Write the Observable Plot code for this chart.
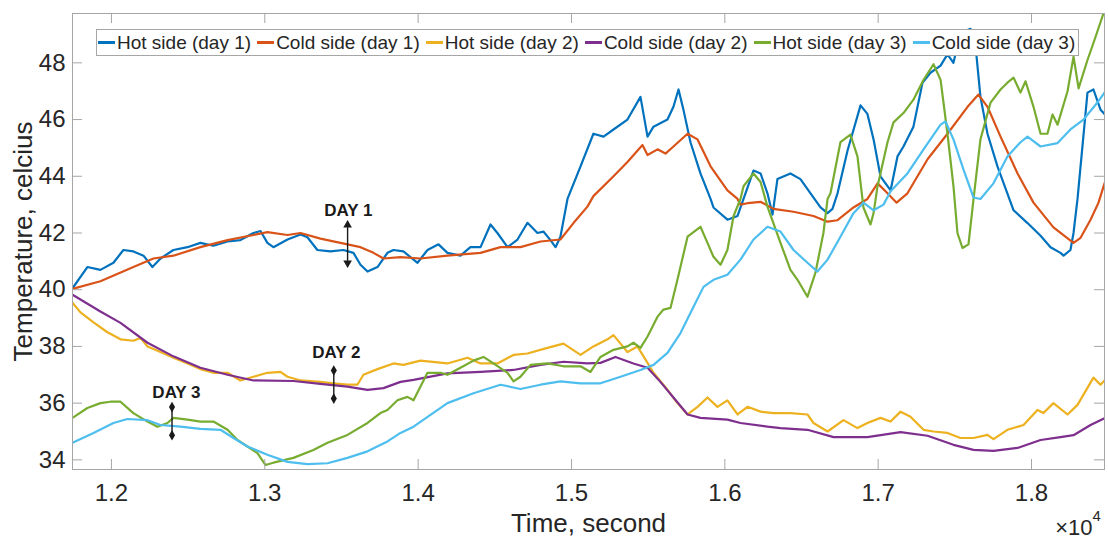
<!DOCTYPE html>
<html>
<head>
<meta charset="utf-8">
<script src="https://cdn.jsdelivr.net/npm/d3@7"></script>
<script src="https://cdn.jsdelivr.net/npm/@observablehq/plot@0.6"></script>
<style>
  body { margin: 0; background: #fff; }
  #wrap { position: relative; width: 1108px; height: 539px; font-family: "Liberation Sans", Arial, Helvetica, sans-serif; }
  #legend { position: absolute; left: 96px; top: 29px; height: 27px; box-sizing: border-box; border: 1px solid #a6a6a6;
            background: #fff; display: flex; align-items: center; padding-right: 3px; font-size: 19px; color: #262626; white-space: nowrap; }
  .item { display: flex; align-items: center; margin-left: 6px; }
  .item:first-child { margin-left: 1px; }
  .sw { width: 17px; height: 2.5px; margin-right: 2px; }
</style>
</head>
<body>
<div id="wrap"><div id="legend"></div></div>
<script>
// ---------- data ----------
const seriesNames = ["Hot side (day 1)", "Cold side (day 1)", "Hot side (day 2)", "Cold side (day 2)", "Hot side (day 3)", "Cold side (day 3)"];
const seriesColors = ["#0072BD", "#D95319", "#EDB120", "#7E2F8E", "#77AC30", "#4DBEEE"];

// [time (s), temperature (°C)]
const hotDay1 = [[11746,40.05],[11843,40.8],[11928,40.7],[12013,40.95],[12078,41.4],[12143,41.35],[12209,41.2],[12267,40.8],[12320,41.1],[12404,41.4],[12496,41.5],[12580,41.65],[12665,41.55],[12757,41.7],[12841,41.75],[12926,42.0],[12972,42.07],[13017,41.65],[13056,41.5],[13148,41.77],[13233,41.95],[13278,41.85],[13343,41.4],[13428,41.35],[13513,41.4],[13578,41.3],[13624,40.88],[13670,40.64],[13735,40.8],[13800,41.3],[13839,41.4],[13904,41.35],[13996,40.95],[14061,41.4],[14133,41.6],[14191,41.3],[14276,41.2],[14341,41.5],[14407,41.5],[14472,42.3],[14517,42.0],[14583,41.5],[14648,41.77],[14713,42.36],[14778,42.0],[14817,42.05],[14863,41.75],[14896,41.5],[14928,41.87],[14974,43.2],[15059,44.35],[15143,45.5],[15209,45.4],[15274,45.65],[15365,46.0],[15450,46.8],[15496,45.4],[15535,45.75],[15626,46.0],[15665,46.45],[15698,47.06],[15730,46.35],[15776,45.2],[15841,44.1],[15907,43.2],[15926,42.9],[16017,42.47],[16083,42.6],[16122,43.2],[16187,44.2],[16233,44.1],[16278,43.4],[16311,42.65],[16343,43.9],[16428,44.1],[16493,43.9],[16559,43.4],[16624,42.9],[16670,42.7],[16702,42.85],[16735,43.4],[16800,44.9],[16885,46.5],[16930,46.2],[16970,45.3],[17015,44.0],[17081,43.5],[17126,44.7],[17165,45.05],[17230,45.75],[17289,47.3],[17341,47.65],[17407,47.9],[17452,48.3],[17491,48.0],[17537,49.05],[17602,49.2],[17635,48.6],[17667,46.8],[17713,45.5],[17778,44.35],[17883,42.8],[17974,42.35],[18059,41.9],[18124,41.5],[18189,41.3],[18209,41.2],[18254,41.4],[18274,42.0],[18300,43.2],[18365,46.95],[18404,47.06],[18450,46.35],[18476,46.2]];
const coldDay1 = [[11746,40.03],[11928,40.3],[12143,40.8],[12274,41.1],[12404,41.2],[12580,41.5],[12757,41.75],[12926,41.93],[13017,42.03],[13148,41.93],[13233,42.0],[13363,41.8],[13493,41.65],[13624,41.5],[13709,41.3],[13774,41.1],[13885,41.15],[14015,41.1],[14191,41.2],[14407,41.3],[14537,41.5],[14667,41.5],[14798,41.7],[14928,41.77],[15013,42.35],[15104,42.93],[15143,43.3],[15274,44.0],[15365,44.5],[15463,45.1],[15496,44.75],[15561,44.95],[15613,44.8],[15665,45.05],[15757,45.5],[15822,45.3],[15907,44.35],[16017,43.5],[16083,43.2],[16102,43.0],[16148,43.05],[16233,43.1],[16317,42.85],[16448,42.75],[16578,42.6],[16670,42.4],[16735,42.45],[16839,42.9],[16930,43.2],[16996,43.75],[17061,43.4],[17120,43.07],[17191,43.4],[17322,44.6],[17452,45.5],[17583,46.45],[17654,46.88],[17713,46.45],[17798,45.4],[17909,44.1],[18013,43.07],[18143,42.2],[18274,41.65],[18320,41.83],[18385,42.47],[18437,43.07],[18476,43.75]];
const hotDay2 = [[11746,39.54],[11798,39.2],[11883,38.85],[11974,38.5],[12059,38.25],[12143,38.2],[12189,38.3],[12235,38.0],[12320,37.8],[12404,37.6],[12496,37.4],[12580,37.2],[12665,37.07],[12757,37.07],[12841,36.8],[12926,36.93],[13017,37.07],[13102,37.1],[13148,36.93],[13233,36.8],[13363,36.75],[13448,36.7],[13539,36.65],[13604,36.65],[13643,37.0],[13735,37.2],[13839,37.4],[13904,37.35],[14015,37.5],[14191,37.4],[14322,37.6],[14407,37.4],[14517,37.4],[14622,37.7],[14713,37.75],[14843,37.95],[14948,38.1],[15059,37.7],[15143,38.0],[15235,38.25],[15274,38.4],[15320,38.1],[15365,37.8],[15430,38.0],[15470,37.65],[15535,37.07],[15626,36.47],[15691,36.0],[15757,35.6],[15822,35.87],[15887,36.2],[15952,35.87],[16017,36.1],[16083,35.6],[16148,35.87],[16233,35.7],[16317,35.65],[16428,35.65],[16539,35.6],[16578,35.3],[16670,35.0],[16774,35.4],[16865,35.12],[16930,35.3],[17015,35.48],[17081,35.35],[17146,35.7],[17211,35.52],[17296,35.06],[17361,35.0],[17452,34.95],[17537,34.77],[17622,34.77],[17713,34.88],[17752,34.73],[17843,35.06],[17948,35.23],[18039,35.76],[18078,35.65],[18143,36.0],[18235,35.6],[18300,35.94],[18404,36.9],[18450,36.65],[18476,36.8]];
const coldDay2 = [[11746,39.82],[11928,39.23],[12059,38.83],[12235,38.13],[12404,37.65],[12580,37.25],[12757,37.0],[12926,36.8],[13187,36.78],[13363,36.68],[13539,36.58],[13670,36.47],[13774,36.53],[13885,36.75],[13970,36.82],[14191,37.05],[14407,37.1],[14622,37.17],[14798,37.35],[14948,37.46],[15104,37.4],[15189,37.42],[15287,37.63],[15404,37.4],[15496,37.25],[15580,36.75],[15665,36.2],[15757,35.6],[15841,35.48],[16017,35.42],[16102,35.3],[16278,35.17],[16363,35.12],[16539,35.06],[16709,34.8],[16930,34.8],[17146,34.98],[17322,34.85],[17491,34.53],[17622,34.35],[17752,34.32],[17909,34.42],[18059,34.7],[18189,34.8],[18274,34.87],[18385,35.23],[18476,35.47]];
const hotDay3 = [[11746,35.48],[11843,35.83],[11928,36.0],[11993,36.05],[12059,36.05],[12143,35.65],[12235,35.35],[12300,35.17],[12365,35.3],[12404,35.48],[12496,35.42],[12580,35.35],[12665,35.35],[12757,35.06],[12822,34.7],[12887,34.47],[12952,34.24],[13004,33.82],[13056,33.9],[13187,34.07],[13317,34.35],[13409,34.6],[13539,34.88],[13670,35.3],[13754,35.65],[13800,35.76],[13865,36.1],[13930,36.22],[13970,36.1],[14061,37.07],[14146,37.07],[14191,37.0],[14276,37.25],[14361,37.5],[14426,37.63],[14491,37.4],[14583,37.07],[14622,36.77],[14667,36.93],[14733,37.35],[14843,37.4],[14948,37.3],[15059,37.3],[15124,37.1],[15189,37.63],[15274,37.88],[15365,38.0],[15404,38.13],[15450,37.95],[15496,38.35],[15561,39.05],[15600,39.3],[15646,39.36],[15691,40.35],[15757,41.87],[15841,42.22],[15887,41.65],[15926,41.16],[15972,40.88],[16017,41.4],[16057,42.6],[16102,43.2],[16122,43.65],[16187,44.1],[16233,43.8],[16278,42.93],[16363,41.65],[16428,40.7],[16474,40.35],[16539,39.75],[16591,40.6],[16643,42.0],[16670,43.2],[16689,43.4],[16754,45.2],[16819,45.47],[16865,44.7],[16904,42.9],[16950,42.3],[16970,42.7],[16996,43.65],[17061,45.2],[17100,45.9],[17165,46.23],[17230,46.7],[17296,47.4],[17361,47.95],[17407,47.4],[17452,45.5],[17491,43.65],[17517,42.0],[17550,41.47],[17589,41.6],[17622,43.2],[17667,45.3],[17733,46.6],[17798,47.06],[17843,47.3],[17883,47.48],[17928,46.95],[17961,47.35],[18013,46.45],[18059,45.5],[18104,45.5],[18137,46.18],[18170,45.82],[18235,47.0],[18274,48.22],[18307,47.1],[18365,48.1],[18404,48.7],[18469,49.74],[18476,49.9]];
const coldDay3 = [[11746,34.6],[11883,34.95],[12013,35.3],[12104,35.44],[12235,35.4],[12320,35.23],[12450,35.17],[12580,35.09],[12711,35.06],[12796,34.77],[12887,34.47],[13017,34.18],[13148,33.93],[13278,33.85],[13409,33.88],[13539,34.07],[13670,34.3],[13800,34.65],[13885,34.95],[13970,35.17],[14191,36.0],[14361,36.35],[14537,36.65],[14667,36.5],[14798,36.65],[14928,36.77],[15059,36.7],[15189,36.7],[15320,36.93],[15450,37.17],[15535,37.35],[15626,37.77],[15711,38.47],[15796,39.4],[15861,40.1],[15926,40.35],[16017,40.53],[16102,41.06],[16187,41.77],[16278,42.22],[16363,42.05],[16448,41.4],[16539,40.95],[16604,40.64],[16670,41.06],[16754,41.87],[16839,42.7],[16904,43.07],[16970,42.8],[17035,43.0],[17081,43.47],[17191,44.1],[17296,44.95],[17407,45.82],[17439,45.93],[17491,45.3],[17556,44.24],[17622,43.25],[17667,43.2],[17752,43.75],[17843,44.7],[17928,45.2],[17974,45.4],[18059,45.05],[18170,45.17],[18254,45.65],[18339,46.0],[18430,46.6],[18476,46.95]];
const seriesData = [hotDay1, coldDay1, hotDay2, coldDay2, hotDay3, coldDay3];

const xDomain = [11746, 18476];
const yDomain = [33.66, 49.74];
const xTicks = [12000, 13000, 14000, 15000, 16000, 17000, 18000];
const xTickLabels = ["1.2", "1.3", "1.4", "1.5", "1.6", "1.7", "1.8"];
const yTicks = [34, 36, 38, 40, 42, 44, 46, 48];
const yTickLabels = ["34", "36", "38", "40", "42", "44", "46", "48"];
const xLabel = "Time, second";
const yLabel = "Temperature, celcius";
const exponentBase = "×10";
const exponentPower = "4";

// annotations
const annLabels = ["DAY 1", "DAY 2", "DAY 3"];
const annLabelTime = [13545, 13467, 12424];
const annLabelTemp = [42.79, 37.78, 36.36];
const annArrowTime = [13540, 13450, 12395];
const annArrowTop = [42.35, 37.15, 35.86];
const annArrowBottom = [40.87, 36.16, 34.87];
const annHead = ["triangle", "diamond", "diamond"];

// ---------- build ----------
const rows = seriesData.flatMap((arr, s) => arr.map(([t, temp]) => ({series: seriesNames[s], t, temp})));
const xLab = new Map(xTicks.map((t, i) => [t, xTickLabels[i]]));
const yLab = new Map(yTicks.map((t, i) => [t, yTickLabels[i]]));
const annIdx = annLabels.map((_, i) => i);

const W = 1108, H = 539;
const M = {top: 13, right: 4, bottom: 70, left: 72};
const innerW = W - M.left - M.right, innerH = H - M.top - M.bottom;
const tickLen = 10;
const axisGray = "#a6a6a6";
const ink = "#1a1a1a";

const chart = Plot.plot({
  width: W, height: H,
  marginTop: M.top, marginRight: M.right, marginBottom: M.bottom, marginLeft: M.left,
  x: {domain: xDomain, label: null},
  y: {domain: yDomain, label: null},
  color: {domain: seriesNames, range: seriesColors},
  style: {fontFamily: '"Liberation Sans", Arial, Helvetica, sans-serif', fontSize: "24px", color: "#262626", background: "#fff", overflow: "visible"},
  marks: [
    Plot.line(rows, {x: "t", y: "temp", z: "series", stroke: "series", strokeWidth: 2.2, clip: true}),
    Plot.frame({stroke: axisGray}),
    Plot.ruleX(xTicks, {x: d => d, insetTop: innerH - tickLen, stroke: axisGray}),
    Plot.ruleX(xTicks, {x: d => d, insetBottom: innerH - tickLen, stroke: axisGray}),
    Plot.ruleY(yTicks, {y: d => d, insetRight: innerW - tickLen, stroke: axisGray}),
    Plot.ruleY(yTicks, {y: d => d, insetLeft: innerW - tickLen, stroke: axisGray}),
    Plot.axisX({ticks: xTicks, tickSize: 0, tickPadding: 14, tickFormat: d => xLab.get(d), fontSize: 24}),
    Plot.axisY({ticks: yTicks, tickSize: 0, tickPadding: 7, tickFormat: d => yLab.get(d), fontSize: 24}),
    // annotations
    Plot.ruleX(annIdx, {x: i => annArrowTime[i], y1: i => annArrowBottom[i], y2: i => annArrowTop[i], stroke: ink, strokeWidth: 1.4}),
    Plot.dot(annIdx, {filter: i => annHead[i] === "triangle", x: i => annArrowTime[i], y: i => annArrowTop[i], symbol: "triangle", r: 3.2, fill: ink, stroke: "none", dy: 2}),
    Plot.dot(annIdx, {filter: i => annHead[i] === "triangle", x: i => annArrowTime[i], y: i => annArrowBottom[i], symbol: "triangle", rotate: 180, r: 3.2, fill: ink, stroke: "none", dy: -2}),
    Plot.dot(annIdx, {filter: i => annHead[i] === "diamond", x: i => annArrowTime[i], y: i => annArrowTop[i], symbol: "diamond", r: 3.2, fill: ink, stroke: "none"}),
    Plot.dot(annIdx, {filter: i => annHead[i] === "diamond", x: i => annArrowTime[i], y: i => annArrowBottom[i], symbol: "diamond", r: 3.2, fill: ink, stroke: "none"}),
    Plot.text(annIdx, {x: i => annLabelTime[i], y: i => annLabelTemp[i], text: i => annLabels[i], fontWeight: "bold", fontSize: 17, fill: ink}),
    // axis titles
    Plot.text([xLabel], {frameAnchor: "bottom", lineAnchor: "top", dy: 44, fontSize: 26, fill: "#262626"}),
    Plot.text([yLabel], {frameAnchor: "left", textAnchor: "middle", rotate: -90, dx: -49, fontSize: 26, fill: "#262626"}),
    Plot.text([exponentBase], {frameAnchor: "bottom-right", textAnchor: "end", lineAnchor: "top", dx: -12, dy: 50, fontSize: 22, fill: "#262626"}),
    Plot.text([exponentPower], {frameAnchor: "bottom-right", textAnchor: "start", lineAnchor: "top", dx: -12, dy: 41, fontSize: 15, fill: "#262626"})
  ]
});
document.getElementById("wrap").prepend(chart);

// legend
const legend = d3.select("#legend");
seriesNames.forEach((name, i) => {
  const item = legend.append("div").attr("class", "item");
  item.append("div").attr("class", "sw").style("background", seriesColors[i]);
  item.append("span").text(name);
});
</script>
</body>
</html>
